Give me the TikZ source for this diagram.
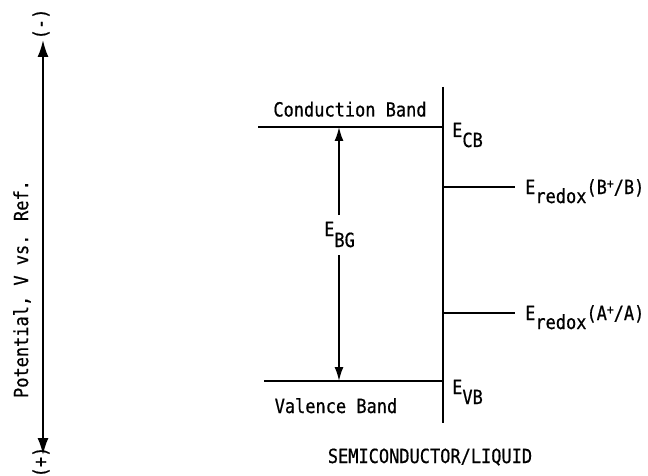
\documentclass[tikz,border=0pt]{standalone}
\usepackage{fontspec}
\newfontfamily\tyfont[FakeStretch=0.87,FakeBold=0.6]{DejaVu Sans Mono}
\usetikzlibrary{arrows.meta}
\begin{document}
\begin{tikzpicture}[x=1pt,y=1pt,
  txt/.style={font=\tyfont\fontsize{19.5}{22}\selectfont, inner sep=0pt, text=black},
  band/.style={line width=2.2pt, line cap=butt},
  bigarrow/.style={line width=2pt, {Latex[length=17pt,width=11pt]}-{Latex[length=17pt,width=11pt]}},
  gaparrow/.style={line width=1.6pt, -{Latex[length=14pt,width=9pt]}}]
\useasboundingbox (0,0) rectangle (648,-476);
% potential axis
\coordinate (axtop) at (43,-40);
\coordinate (axbot) at (43,-455);
\draw[bigarrow] (axtop) -- (axbot);
\node[txt, rotate=90] (minus) at (41,-24) {(-)};
\node[txt, rotate=90] (plus) at (41,-462) {(+)};
\node[txt, rotate=90] (pot) at (22,-289) {Potential, V vs. Ref.};
% interface
\coordinate (ifTop) at (443,-87);
\coordinate (ifBot) at (443,-423);
\draw[band] (ifTop) -- (ifBot);
% bands
\coordinate (cbL) at (258,-127);
\coordinate (cbR) at (443,-127);
\coordinate (vbL) at (264,-381);
\coordinate (vbR) at (443,-381);
\draw[band] (cbL) -- (cbR);
\draw[band] (vbL) -- (vbR);
% redox levels
\coordinate (bL) at (443,-187);
\coordinate (bR) at (515,-187);
\coordinate (aL) at (443,-313);
\coordinate (aR) at (515,-313);
\draw[band] (bL) -- (bR);
\draw[band] (aL) -- (aR);
% band gap arrows
\coordinate (gCB) at (339,-127);
\coordinate (gVB) at (339,-381);
\node[txt, anchor=base west] (ebg) at (324,-236) {E\raisebox{-11pt}{BG}};
\coordinate (gTop) at (339,-215);
\coordinate (gBot) at (339,-255);
\draw[gaparrow] (gTop) -- (gCB);
\draw[gaparrow] (gBot) -- (gVB);
% labels
\node[txt, anchor=base] (cbtxt) at (350,-116.5) {Conduction Band};
\node[txt, anchor=base] (vbtxt) at (336,-413) {Valence Band};
\node[txt, anchor=base west] (ecb) at (452,-137) {E\raisebox{-10pt}{CB}};
\node[txt, anchor=base west] (evb) at (452,-394) {E\raisebox{-10pt}{VB}};
\node[txt, anchor=base west] (eb) at (525,-194) {E\raisebox{-9pt}{redox}(B\raisebox{6pt}{\fontsize{13}{14}\selectfont +}/B)};
\node[txt, anchor=base west] (ea) at (525,-320) {E\raisebox{-9pt}{redox}(A\raisebox{6pt}{\fontsize{13}{14}\selectfont +}/A)};
\node[txt, anchor=base] (sl) at (430,-463) {SEMICONDUCTOR/LIQUID};
\end{tikzpicture}
\end{document}
